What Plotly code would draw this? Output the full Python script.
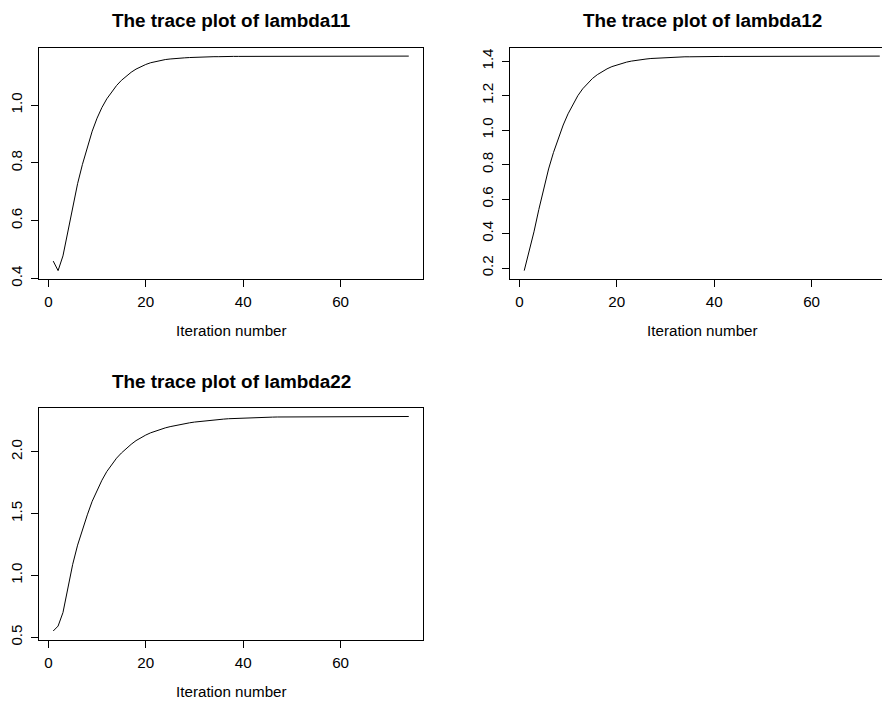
import plotly.graph_objects as go

ITER = list(range(1, 75))

lambda11 = [0.460, 0.427, 0.478, 0.560, 0.650, 0.728, 0.795, 0.855, 0.910, 0.955,
            0.992, 1.022, 1.047, 1.068, 1.086, 1.101, 1.114, 1.125, 1.134, 1.141,
            1.147, 1.151, 1.155, 1.158, 1.160, 1.162, 1.163, 1.164, 1.165, 1.166,
            1.167, 1.167, 1.168, 1.168, 1.168, 1.169, 1.169, 1.169, 1.169, 1.169,
            1.169, 1.169, 1.169, 1.169, 1.169, 1.170, 1.170, 1.170, 1.170, 1.170,
            1.170, 1.170, 1.170, 1.170, 1.170, 1.170, 1.170, 1.170, 1.170, 1.170,
            1.170, 1.170, 1.170, 1.170, 1.170, 1.170, 1.170, 1.170, 1.170, 1.170,
            1.170, 1.170, 1.170, 1.170]

lambda12 = [0.185, 0.290, 0.410, 0.540, 0.665, 0.775, 0.870, 0.955, 1.030, 1.095,
            1.150, 1.200, 1.240, 1.273, 1.300, 1.322, 1.340, 1.356, 1.369, 1.379,
            1.388, 1.395, 1.401, 1.406, 1.410, 1.413, 1.416, 1.418, 1.420, 1.422,
            1.423, 1.424, 1.425, 1.426, 1.426, 1.427, 1.427, 1.428, 1.428, 1.428,
            1.428, 1.428, 1.428, 1.428, 1.428, 1.429, 1.429, 1.429, 1.429, 1.429,
            1.429, 1.429, 1.429, 1.429, 1.429, 1.430, 1.430, 1.430, 1.430, 1.430,
            1.430, 1.430, 1.430, 1.430, 1.430, 1.430, 1.430, 1.430, 1.430, 1.430,
            1.430, 1.430, 1.430, 1.430]

lambda22 = [0.551, 0.591, 0.700, 0.900, 1.090, 1.245, 1.375, 1.490, 1.600, 1.690,
            1.770, 1.840, 1.898, 1.948, 1.990, 2.027, 2.060, 2.090, 2.114, 2.135,
            2.153, 2.168, 2.181, 2.193, 2.203, 2.212, 2.220, 2.227, 2.234, 2.240,
            2.245, 2.250, 2.254, 2.258, 2.261, 2.264, 2.267, 2.269, 2.271, 2.273,
            2.275, 2.276, 2.277, 2.278, 2.279, 2.280, 2.281, 2.281, 2.282, 2.282,
            2.283, 2.283, 2.283, 2.283, 2.284, 2.284, 2.284, 2.284, 2.284, 2.285,
            2.285, 2.285, 2.285, 2.285, 2.285, 2.285, 2.285, 2.285, 2.285, 2.285,
            2.285, 2.285, 2.285, 2.285]

TITLES = ["The trace plot of lambda11", "The trace plot of lambda12", "The trace plot of lambda22"]
XLABEL = "Iteration number"
XTICKS = [0, 20, 40, 60]
YTICKS1 = [0.4, 0.6, 0.8, 1.0]
YTICKS2 = [0.2, 0.4, 0.6, 0.8, 1.0, 1.2, 1.4]
YTICKS3 = [0.5, 1.0, 1.5, 2.0]
YTICKTEXT1 = ["0.4", "0.6", "0.8", "1.0"]
YTICKTEXT2 = ["0.2", "0.4", "0.6", "0.8", "1.0", "1.2", "1.4"]
YTICKTEXT3 = ["0.5", "1.0", "1.5", "2.0"]

W, H = 882, 706
FONT = "Liberation Sans, Arial, Helvetica, sans-serif"
TICK_SIZE = 15.2
TITLE_SIZE = 18.9


def fx(px):
    return px / W


def fy(py):
    return 1 - py / H


def rng(vals):
    lo, hi = min(vals), max(vals)
    d = (hi - lo) * 0.04
    return [lo - d, hi + d]


fig = go.Figure()
series = [lambda11, lambda12, lambda22]
for i, s in enumerate(series):
    fig.add_trace(go.Scatter(x=ITER, y=s, mode="lines",
                             line=dict(color="black", width=1),
                             xaxis="x" if i == 0 else f"x{i+1}",
                             yaxis="y" if i == 0 else f"y{i+1}",
                             showlegend=False, hoverinfo="skip"))

xr = [1 - 73 * 0.04, 74 + 73 * 0.04]
# panel boxes in page pixels: (left, right_visible, top, bottom, full_right)
boxes = [
    (39, 423, 48, 282, 423),
    (510, 882, 48, 282, 894),
    (39, 423, 412, 646, 423),
]
yticks = [YTICKS1, YTICKS2, YTICKS3]
yticktext = [YTICKTEXT1, YTICKTEXT2, YTICKTEXT3]

common_axis = dict(showline=True, linecolor="black", linewidth=1,
                   ticks="outside", ticklen=7, tickcolor="black", tickwidth=1,
                   showgrid=False, zeroline=False, fixedrange=True,
                   tickfont=dict(family=FONT, size=TICK_SIZE, color="black"))

layout = {}
for i, (l, r, t, b, fr) in enumerate(boxes):
    sfx = "" if i == 0 else str(i + 1)
    upp = (xr[1] - xr[0]) / (fr - l)
    xmax = xr[0] + (r - l) * upp
    layout["xaxis" + sfx] = dict(common_axis, domain=[fx(l), min(1.0, fx(r))], range=[xr[0], xmax],
                                 tickvals=XTICKS, ticktext=[str(v) for v in XTICKS],
                                 mirror=True, anchor="y" + sfx, ticklabelstandoff=2)
    layout["yaxis" + sfx] = dict(common_axis, domain=[fy(b), fy(t)], range=rng(series[i]),
                                 tickvals=yticks[i], ticktext=yticktext[i], tickangle=-90,
                                 mirror=(i != 1), anchor="x" + sfx, ticklabelstandoff=3)

annotations = []
for i, (l, r, t, b, fr) in enumerate(boxes):
    cx = (l + fr) / 2
    annotations.append(dict(text="<b>" + TITLES[i] + "</b>", x=fx(cx), y=fy(t - 27),
                            xref="paper", yref="paper", showarrow=False,
                            xanchor="center", yanchor="middle",
                            font=dict(family=FONT, size=TITLE_SIZE, color="black")))
    annotations.append(dict(text=XLABEL, x=fx(cx), y=fy(b + 52),
                            xref="paper", yref="paper", showarrow=False,
                            xanchor="center", yanchor="middle",
                            font=dict(family=FONT, size=TICK_SIZE, color="black")))

fig.update_layout(width=W, height=H, margin=dict(l=0, r=0, t=0, b=0),
                  paper_bgcolor="white", plot_bgcolor="white",
                  annotations=annotations, **layout)

# Let the 882x706 figure fill the page exactly (no default body margin).
fig.write_html("out.html", config={"displayModeBar": False},
               post_script="document.body.style.margin='0';document.body.style.overflow='hidden';")
